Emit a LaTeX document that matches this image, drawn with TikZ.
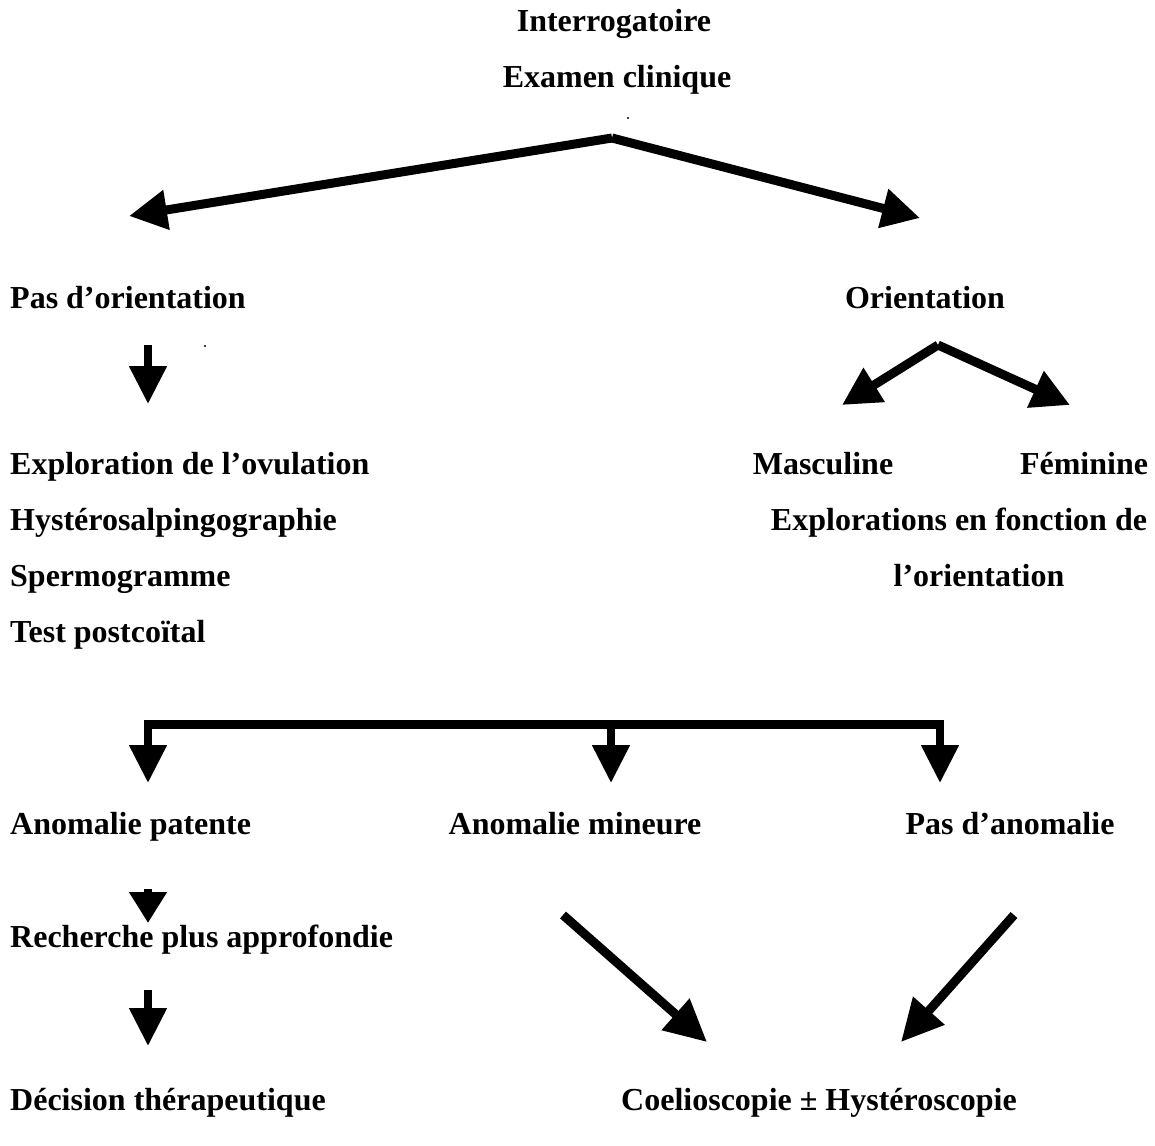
\documentclass[tikz,border=0pt]{standalone}
\usepackage{fontspec}
\setmainfont{Liberation Serif}
\usetikzlibrary{arrows.meta}
\begin{document}
\begin{tikzpicture}[x=1pt,y=-1pt,
  lbl/.style={font=\fontsize{32}{38}\selectfont\bfseries,inner sep=0pt},
  lft/.style={lbl,anchor=base west},
  ctr/.style={lbl,anchor=base},
  flow/.style={line width=9pt,-{Triangle[length=38pt,width=38pt]}},
  drop/.style={line width=8pt,-{Triangle[length=38pt,width=36pt]}},
  speck/.style={fill=black}]
\useasboundingbox[fill=white] (0,0) rectangle (1155,1145);

% headings
\node[ctr] (interro) at (614,32) {Interrogatoire};
\node[ctr] (examen) at (617,88) {Examen clinique};
\fill[speck] (628,118) circle (1.2pt);

% first split
\coordinate (apex) at (612,138);
\coordinate (tipL) at (129,216);
\coordinate (tipR) at (920,218);
\draw[flow] (apex) -- (tipL);
\draw[flow] (apex) -- (tipR);

\node[lft] (pasori) at (10,308) {Pas d’orientation};
\node[ctr] (ori) at (925,308) {Orientation};

% left branch
\coordinate (d1s) at (148,345);
\coordinate (d1e) at (148,404);
\draw[drop] (d1s) -- (d1e);
\fill[speck] (205,346) circle (1.2pt);

\node[lft] (expl) at (10,474) {Exploration de l’ovulation};
\node[lft] (hyst) at (10,530) {Hystérosalpingographie};
\node[lft] (sperm) at (10,586) {Spermogramme};
\node[lft] (test) at (10,642) {Test postcoïtal};

% right branch
\coordinate (apex2) at (938,345);
\coordinate (tipM) at (842,405);
\coordinate (tipF) at (1070,405);
\draw[flow] (apex2) -- (tipM);
\draw[flow] (apex2) -- (tipF);

\node[ctr] (masc) at (823,474) {Masculine};
\node[ctr] (fem) at (1084,474) {Féminine};
\node[ctr] (explf) at (959,530) {Explorations en fonction de};
\node[ctr] (orient) at (979,586) {l’orientation};

% three-way bracket
\coordinate (bL) at (148,724);
\coordinate (bM) at (611,724);
\coordinate (bR) at (940,724);
\coordinate (eL) at (148,783);
\coordinate (eM) at (611,783);
\coordinate (eR) at (940,783);
\draw[line width=9pt] ([xshift=-4pt]bL) -- ([xshift=4pt]bR);
\draw[drop] ([yshift=-4pt]bL) -- (eL);
\draw[drop] ([yshift=-4pt]bM) -- (eM);
\draw[drop] ([yshift=-4pt]bR) -- (eR);

\node[lft] (patente) at (10,834) {Anomalie patente};
\node[ctr] (mineure) at (575,834) {Anomalie mineure};
\node[ctr] (pasano) at (1010,834) {Pas d’anomalie};

% left column continuation
\coordinate (d2s) at (148,889);
\coordinate (d2e) at (148,923);
\draw[drop,-{Triangle[length=31pt,width=36pt]}] (d2s) -- (d2e);
\node[lft] (rech) at (10,947) {Recherche plus approfondie};

\coordinate (d3s) at (148,990);
\coordinate (d3e) at (148,1046);
\draw[drop] (d3s) -- (d3e);

\node[lft] (decision) at (10,1110) {Décision thérapeutique};
\node[ctr] (coelio) at (819,1110) {Coelioscopie ± Hystéroscopie};

% converging arrows
\coordinate (cLs) at (563,915);
\coordinate (cLe) at (707,1042);
\coordinate (cRs) at (1014,915);
\coordinate (cRe) at (901,1042);
\draw[flow,-{Triangle[length=42pt,width=40pt]}] (cLs) -- (cLe);
\draw[flow,-{Triangle[length=42pt,width=40pt]}] (cRs) -- (cRe);
\end{tikzpicture}
\end{document}
